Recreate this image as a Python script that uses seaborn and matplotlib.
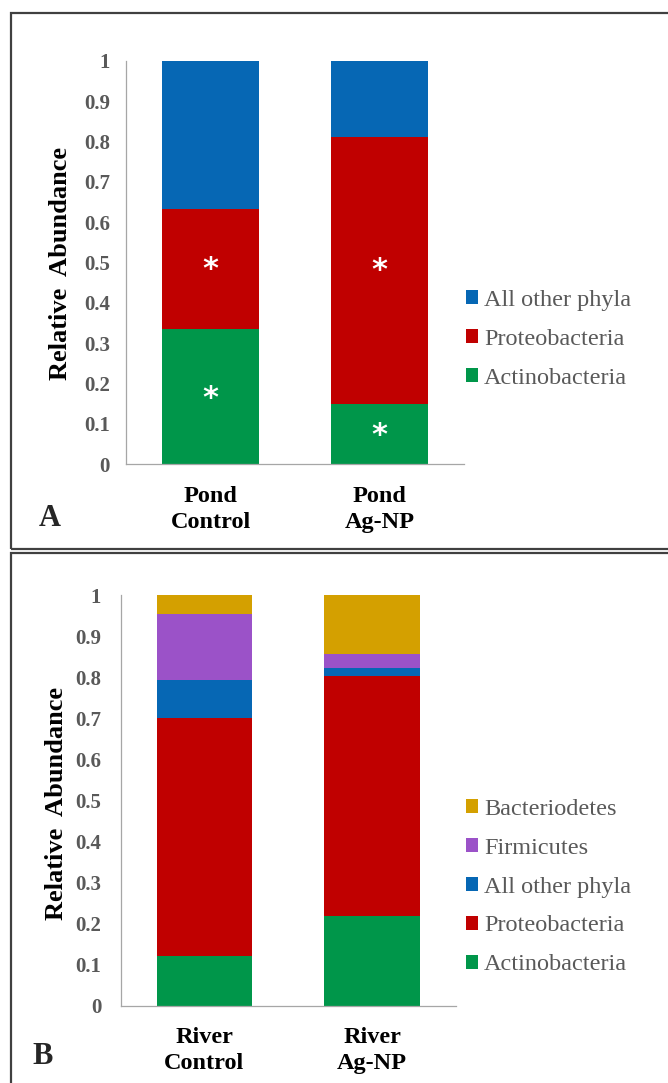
import matplotlib
matplotlib.use("Agg")
import matplotlib.pyplot as plt
import seaborn as sns
import numpy as np
import pandas as pd
from matplotlib.patches import Patch, Rectangle

# ---------------- data ----------------
cats_a = ["Pond\nControl", "Pond\nAg-NP"]
phyla_a = ["Actinobacteria", "Proteobacteria", "All other phyla"]
actino_a = [0.334, 0.149]
proteo_a = [0.299, 0.662]
other_a = [0.367, 0.189]

cats_b = ["River\nControl", "River\nAg-NP"]
phyla_b = ["Actinobacteria", "Proteobacteria", "All other phyla", "Firmicutes", "Bacteriodetes"]
actino_b = [0.120, 0.219]
proteo_b = [0.580, 0.585]
other_b = [0.093, 0.020]
firmi_b = [0.161, 0.034]
bacter_b = [0.046, 0.142]

# significance asterisks (panel A): (category index, y)
stars_a_x = [0, 0, 1, 1]
stars_a_y = [0.496, 0.177, 0.493, 0.085]

yticks = [0, 0.1, 0.2, 0.3, 0.4, 0.5, 0.6, 0.7, 0.8, 0.9, 1]
yticklabels = ["0", "0.1", "0.2", "0.3", "0.4", "0.5", "0.6", "0.7", "0.8", "0.9", "1"]

colors = {
    "Actinobacteria": "#00964A",
    "Proteobacteria": "#C00000",
    "All other phyla": "#0667B4",
    "Firmicutes": "#9B52C8",
    "Bacteriodetes": "#D4A000",
}

# ---------------- style ----------------
sns.set_style("white")
plt.rcParams["font.family"] = ["Liberation Serif", "DejaVu Serif"]

W, H = 668, 1083
fig = plt.figure(figsize=(W / 100, H / 100), dpi=100)


def px_rect(left, top, right, bottom):
    return [left / W, 1 - bottom / H, (right - left) / W, (bottom - top) / H]


ax_a = fig.add_axes(px_rect(126, 60.7, 464, 464.3))
ax_b = fig.add_axes(px_rect(120.6, 595.4, 456, 1005.7))

GRAY = "#595959"


def stacked(ax, cats, phyla, series, ypad):
    df = pd.DataFrame(series, index=phyla, columns=cats).T
    cum = df.cumsum(axis=1)
    for ph in reversed(phyla):
        sns.barplot(x=cats, y=cum[ph].values, color=colors[ph], width=0.57,
                    saturation=1, linewidth=0, ax=ax)
    ax.set_xlim(-0.5, 1.5)
    ax.set_ylim(0, 1)
    ax.set_yticks(yticks)
    ax.set_yticklabels(yticklabels, color=GRAY, fontsize=15, fontweight="bold")
    ax.set_xticks([0, 1])
    ax.set_xticklabels(cats, fontsize=17.5, fontweight="bold", color="black",
                       linespacing=1.3)
    ax.tick_params(axis="y", length=0, pad=ypad)
    ax.tick_params(axis="x", length=0, pad=15.5)
    for s in ["top", "right"]:
        ax.spines[s].set_visible(False)
    for s in ["left", "bottom"]:
        ax.spines[s].set_color("#A6A6A6")
        ax.spines[s].set_linewidth(0.9)
    ax.set_ylabel("Relative  Abundance", fontsize=19, fontweight="bold", color="black")
    handles = [Patch(facecolor=colors[p], edgecolor="none", label=p) for p in reversed(phyla)]
    return handles


h_a = stacked(ax_a, cats_a, phyla_a, [actino_a, proteo_a, other_a], 11.5)
h_b = stacked(ax_b, cats_b, phyla_b, [actino_b, proteo_b, other_b, firmi_b, bacter_b], 14)

ax_a.yaxis.set_label_coords(72 / W, 1 - 264 / H, transform=fig.transFigure)
ax_b.yaxis.set_label_coords(68 / W, 1 - 803 / H, transform=fig.transFigure)

for xi, yi in zip(stars_a_x, stars_a_y):
    ax_a.annotate("*", (xi, yi), xytext=(0, -4), textcoords="offset points",
                  color="white", fontsize=22, fontweight="bold", ha="center", va="center",
                  family="DejaVu Sans")

for ax, handles, yc in [(ax_a, h_a, 339.5), (ax_b, h_b, 887.0)]:
    leg = ax.legend(handles=handles, loc="center left",
                    bbox_to_anchor=(466 / W, 1 - yc / H), bbox_transform=fig.transFigure,
                    frameon=False, fontsize=17.5, handlelength=0.5, handleheight=0.5,
                    handletextpad=0.25, labelspacing=0.74, borderpad=0, borderaxespad=0)
    for t in leg.get_texts():
        t.set_color(GRAY)

fig.text(50 / W, 1 - 519 / H, "A", fontsize=22, fontweight="bold", ha="center", va="center")
fig.text(42.5 / W, 1 - 1057 / H, "B", fontsize=22, fontweight="bold", ha="center", va="center")

# panel frames
fig.add_artist(Rectangle((11 / W, 1 - 549 / H), 1.0, (549 - 13) / H,
                         transform=fig.transFigure, fill=False, lw=1.6, ec="#404040"))
fig.add_artist(Rectangle((11 / W, 1 - 1095 / H), 1.0, (1095 - 553) / H,
                         transform=fig.transFigure, fill=False, lw=1.6, ec="#404040"))

fig.savefig("out.png", dpi=100)
